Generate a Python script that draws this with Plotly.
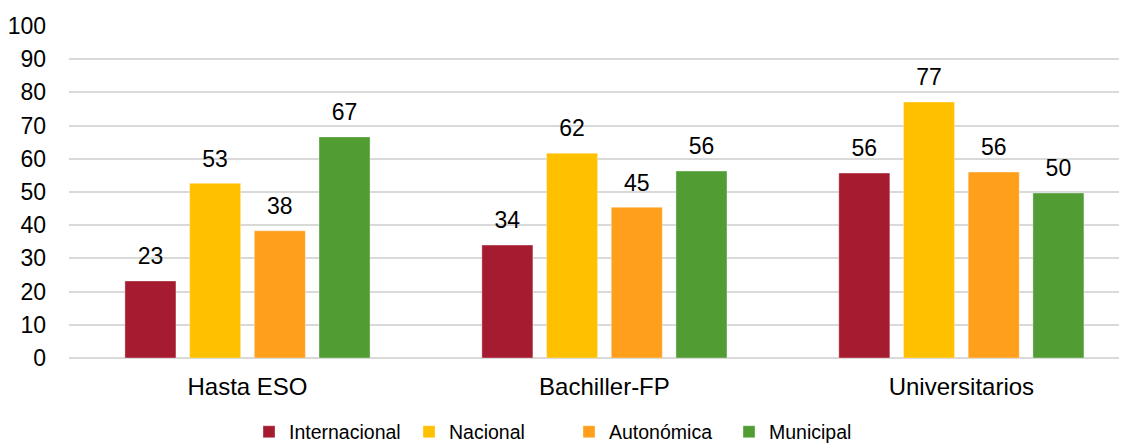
import plotly.graph_objects as go

# datos
categorias = ["Hasta ESO", "Bachiller-FP", "Universitarios"]
series = ["Internacional", "Nacional", "Autonómica", "Municipal"]
internacional = [23.2, 34.0, 55.7]
nacional = [52.6, 61.7, 77.1]
autonomica = [38.3, 45.4, 56.0]
municipal = [66.6, 56.3, 49.7]
valores = [internacional, nacional, autonomica, municipal]
y_ticks = list(range(0, 101, 10))

colores = ["#A51C30", "#FFC000", "#FF9F1C", "#529D33"]
FUENTE = "Liberation Sans, Arial, sans-serif"

fig = go.Figure()

for nombre, vals, color in zip(series, valores, colores):
    fig.add_trace(go.Bar(
        name=nombre,
        x=categorias,
        y=vals,
        offsetgroup=nombre,
        marker=dict(color=color, line=dict(color="rgba(255,255,255,0.35)", width=1)),
        hoverinfo="skip",
    ))

# etiquetas de datos (scatter agrupado con marcador invisible para separar el texto)
for nombre, vals in zip(series, valores):
    fig.add_trace(go.Scatter(
        x=categorias,
        y=vals,
        offsetgroup=nombre,
        mode="markers+text",
        marker=dict(size=16, color="rgba(0,0,0,0)"),
        text=[f"{v:.0f}" for v in vals],
        textposition="top center",
        textfont=dict(family=FUENTE, size=23, color="#000000"),
        showlegend=False,
        hoverinfo="skip",
        cliponaxis=False,
    ))

# la página añade 8px de margen al body: la figura se reduce en consecuencia
fig.update_layout(
    width=1119,
    height=435,
    margin=dict(l=61, r=0, t=18, b=85, autoexpand=False),
    barmode="group",
    bargap=0.275,
    bargroupgap=0.211,
    scattermode="group",
    scattergap=0.275,
    plot_bgcolor="white",
    paper_bgcolor="white",
    font=dict(family=FUENTE, size=22, color="#000000"),
    legend=dict(
        orientation="h",
        x=0.4726, xanchor="center",
        y=-0.223, yanchor="middle",
        font=dict(family=FUENTE, size=19.5),
        entrywidth=115,
        itemclick=False,
    ),
    xaxis=dict(
        range=[-0.5, 2.464],
        showgrid=False,
        ticks="",
        ticklabelstandoff=12,
        tickfont=dict(size=24),
        automargin=False,
    ),
    yaxis=dict(
        range=[0, 100],
        tickvals=y_ticks,
        showgrid=True,
        gridcolor="#D9D9D9",
        gridwidth=1.5,
        zeroline=True,
        zerolinecolor="#D9D9D9",
        zerolinewidth=2,
        ticks="",
        ticklabelstandoff=22,
        tickfont=dict(size=23),
        automargin=False,
    ),
)

fig.write_html("out.html")
